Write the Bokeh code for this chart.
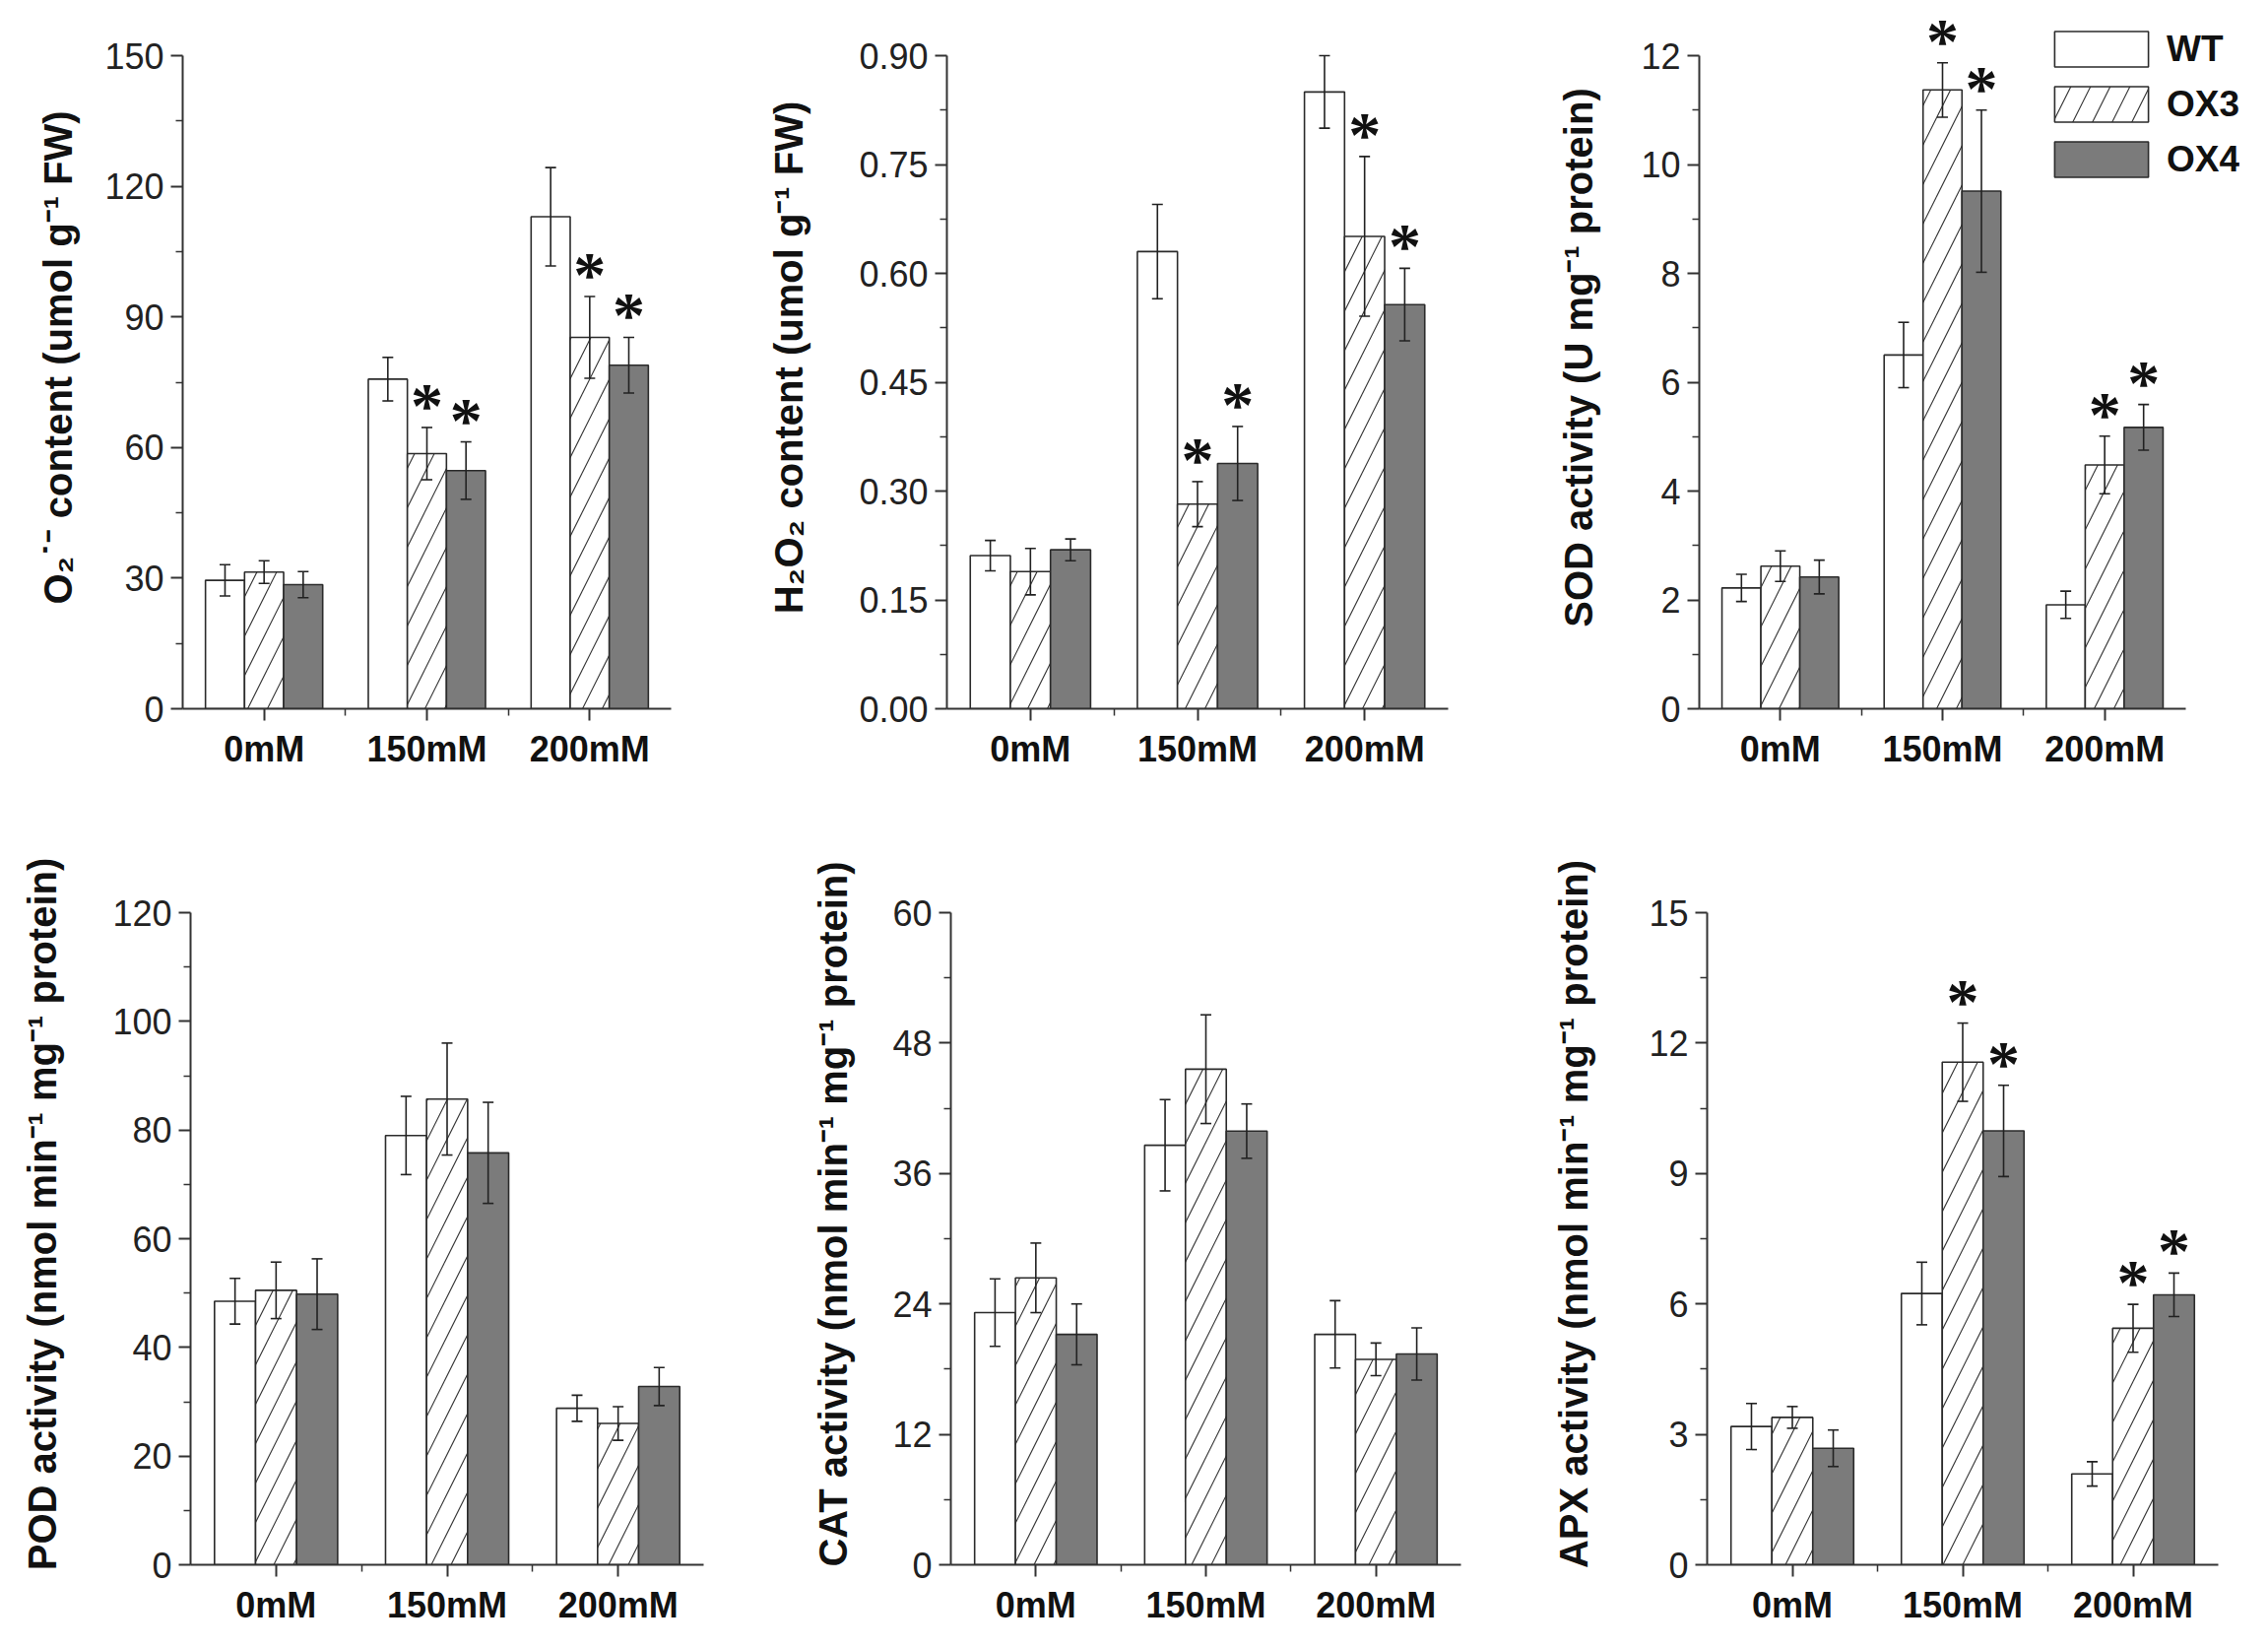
from bokeh.plotting import figure
from bokeh.models import (ColumnDataSource, Whisker, TeeHead, FixedTicker, Legend,
                          LegendItem, Range1d, LabelSet, PrintfTickFormatter)
from bokeh.layouts import column, row
from bokeh.embed import file_html
from bokeh.resources import INLINE

# ---------------- data ----------------
conditions = ["0mM", "150mM", "200mM"]
lines = ["WT", "OX3", "OX4"]

o2_wt = [29.5, 75.7, 113.0]
o2_wt_err = [3.6, 5.0, 11.3]
o2_ox3 = [31.4, 58.6, 85.3]
o2_ox3_err = [2.6, 6.0, 9.4]
o2_ox4 = [28.5, 54.7, 78.9]
o2_ox4_err = [3.0, 6.6, 6.4]
o2_sig_ox3 = [False, True, True]
o2_sig_ox4 = [False, True, True]

h2o2_wt = [0.211, 0.630, 0.850]
h2o2_wt_err = [0.021, 0.065, 0.050]
h2o2_ox3 = [0.189, 0.282, 0.651]
h2o2_ox3_err = [0.032, 0.031, 0.110]
h2o2_ox4 = [0.219, 0.338, 0.557]
h2o2_ox4_err = [0.015, 0.051, 0.050]
h2o2_sig_ox3 = [False, True, True]
h2o2_sig_ox4 = [False, True, True]

sod_wt = [2.22, 6.50, 1.91]
sod_wt_err = [0.25, 0.60, 0.25]
sod_ox3 = [2.62, 11.37, 4.48]
sod_ox3_err = [0.28, 0.50, 0.53]
sod_ox4 = [2.42, 9.51, 5.17]
sod_ox4_err = [0.31, 1.49, 0.42]
sod_sig_ox3 = [False, True, True]
sod_sig_ox4 = [False, True, True]

pod_wt = [48.5, 79.0, 28.8]
pod_wt_err = [4.2, 7.2, 2.4]
pod_ox3 = [50.5, 85.7, 26.0]
pod_ox3_err = [5.2, 10.3, 3.1]
pod_ox4 = [49.8, 75.8, 32.8]
pod_ox4_err = [6.5, 9.3, 3.5]
pod_sig_ox3 = [False, False, False]
pod_sig_ox4 = [False, False, False]

cat_wt = [23.2, 38.6, 21.2]
cat_wt_err = [3.1, 4.2, 3.1]
cat_ox3 = [26.4, 45.6, 18.9]
cat_ox3_err = [3.2, 5.0, 1.5]
cat_ox4 = [21.2, 39.9, 19.4]
cat_ox4_err = [2.8, 2.5, 2.4]
cat_sig_ox3 = [False, False, False]
cat_sig_ox4 = [False, False, False]

apx_wt = [3.18, 6.24, 2.09]
apx_wt_err = [0.53, 0.72, 0.28]
apx_ox3 = [3.39, 11.56, 5.44]
apx_ox3_err = [0.25, 0.90, 0.55]
apx_ox4 = [2.68, 9.98, 6.21]
apx_ox4_err = [0.42, 1.05, 0.50]
apx_sig_ox3 = [False, True, True]
apx_sig_ox4 = [False, True, True]

y_labels = [
    "O\u2082\u02d9\u207b content (umol g\u207b\u00b9 FW)",
    "H\u2082O\u2082 content (umol g\u207b\u00b9 FW)",
    "SOD activity (U mg\u207b\u00b9 protein)",
    "POD activity (nmol min\u207b\u00b9 mg\u207b\u00b9 protein)",
    "CAT activity (nmol min\u207b\u00b9 mg\u207b\u00b9 protein)",
    "APX activity (nmol min\u207b\u00b9 mg\u207b\u00b9 protein)",
]
y_ticks = [
    [0, 30, 60, 90, 120, 150],
    [0.0, 0.15, 0.30, 0.45, 0.60, 0.75, 0.90],
    [0, 2, 4, 6, 8, 10, 12],
    [0, 20, 40, 60, 80, 100, 120],
    [0, 12, 24, 36, 48, 60],
    [0, 3, 6, 9, 12, 15],
]

# ---------------- styling ----------------
FONT = "Liberation Sans"
EDGE = "#2b2b2b"
GREY = "#7b7b7b"
BAR_W = 0.24


def make_panel(idx, wt, wte, ox3, ox3e, ox4, ox4e, sig3, sig4, geom, legend=False):
    # fw/fh: size of the axes box; ext_t/ext_r: extra drawing room above/right of it
    fw, fh, bl, br, bt, bb, ext_t, ext_r, lab_standoff, fmt = geom
    ticks = y_ticks[idx]
    ymax = ticks[-1]
    y_end = ymax * (fh + ext_t) / fh
    x_end = 2.5 + 3.0 * ext_r / fw
    p = figure(frame_width=fw + ext_r, frame_height=fh + ext_t,
               x_range=Range1d(-0.5, x_end), y_range=Range1d(0, y_end),
               min_border_left=bl, min_border_right=br,
               min_border_top=bt, min_border_bottom=bb,
               output_backend="svg", toolbar_location=None)
    p.grid.visible = False
    p.outline_line_color = None
    p.background_fill_color = "white"

    styles = [
        dict(fill_color="white"),
        dict(fill_color="white", hatch_pattern="/", hatch_color="#3a3a3a",
             hatch_scale=40, hatch_weight=1.2),
        dict(fill_color=GREY),
    ]
    series = [(wt, wte, None), (ox3, ox3e, sig3), (ox4, ox4e, sig4)]
    renderers = []
    for k, (vals, errs, sig) in enumerate(series):
        xs = [i + (k - 1) * BAR_W for i in range(len(conditions))]
        src = ColumnDataSource(dict(
            x=xs, top=vals,
            upper=[v + e for v, e in zip(vals, errs)],
            lower=[v - e for v, e in zip(vals, errs)],
        ))
        r = p.vbar(x="x", top="top", bottom=0, width=BAR_W, source=src,
                   line_color=EDGE, line_width=1.6, **styles[k])
        renderers.append(r)
        w = Whisker(source=src, base="x", upper="upper", lower="lower",
                    line_color="#222222", line_width=1.6, level="annotation",
                    upper_head=TeeHead(size=11, line_color="#222222", line_width=1.6),
                    lower_head=TeeHead(size=11, line_color="#222222", line_width=1.6))
        p.add_layout(w)
        if sig is not None:
            sx = [x for x, s in zip(xs, sig) if s]
            sy = [v + e for v, e, s in zip(vals, errs, sig) if s]
            ssrc = ColumnDataSource(dict(x=sx, y=sy, t=["*"] * len(sx)))
            ls = LabelSet(x="x", y="y", text="t", source=ssrc,
                          text_align="center", text_baseline="alphabetic",
                          y_offset=0, text_font=FONT, text_font_style="bold",
                          text_font_size="66px", text_color="#111111")
            p.add_layout(ls)

    # y axis
    ya = p.yaxis[0]
    ya.bounds = (0, ymax)
    ya.ticker = FixedTicker(ticks=ticks,
                            minor_ticks=[(a + b) / 2 for a, b in zip(ticks[:-1], ticks[1:])])
    ya.formatter = PrintfTickFormatter(format=fmt)
    ya.axis_label = y_labels[idx]
    ya.axis_label_text_font = FONT
    ya.axis_label_text_font_style = "bold"
    ya.axis_label_text_font_size = "40px"
    ya.axis_label_text_color = "#111111"
    ya.axis_label_standoff = lab_standoff
    ya.major_label_text_font = FONT
    ya.major_label_text_font_size = "36px"
    ya.major_label_text_color = "#222222"
    ya.major_label_standoff = 7

    # x axis
    xa = p.xaxis[0]
    xa.bounds = (-0.5, 2.5)
    xa.ticker = FixedTicker(ticks=[0, 1, 2], minor_ticks=[0.5, 1.5])
    xa.major_label_overrides = {i: c for i, c in enumerate(conditions)}
    xa.major_label_text_font = FONT
    xa.major_label_text_font_style = "bold"
    xa.major_label_text_font_size = "36px"
    xa.major_label_text_color = "#111111"
    xa.major_label_standoff = 8

    for ax in (xa, ya):
        ax.axis_line_color = "#333333"
        ax.axis_line_width = 2
        ax.major_tick_line_color = "#333333"
        ax.major_tick_line_width = 2
        ax.minor_tick_line_color = "#333333"
        ax.minor_tick_line_width = 1.5
        ax.major_tick_in = 0
        ax.major_tick_out = 12
        ax.minor_tick_in = 0
        ax.minor_tick_out = 7

    if legend:
        lg = Legend(items=[LegendItem(label=n, renderers=[r]) for n, r in zip(lines, renderers)],
                    location=(349, 535), orientation="vertical",
                    glyph_width=119, glyph_height=45, spacing=11, padding=0, margin=0,
                    label_standoff=7, label_text_font=FONT, label_text_font_style="bold",
                    label_text_font_size="37px", label_text_color="#111111",
                    border_line_color=None, background_fill_alpha=0)
        p.add_layout(lg)
    return p


# geometry: axes width/height, border l/r/t/b, extra room top/right, label standoff, tick format
g1 = (496, 663, 185, 71, 6, 123, 50, 0, 22, "%d")
g2 = (509, 663, 209, 45, 6, 123, 50, 0, 46, "%.2f")
g3 = (494, 663, 210, 5, 6, 123, 50, 55, 38, "%d")
g4 = (521, 662, 193, 38, 34, 64, 50, 0, 46, "%d")
g5 = (518, 662, 213, 32, 34, 64, 50, 0, 35, "%d")
g6 = (519, 662, 218, 30, 34, 64, 50, 0, 51, "%d")

p1 = make_panel(0, o2_wt, o2_wt_err, o2_ox3, o2_ox3_err, o2_ox4, o2_ox4_err,
                o2_sig_ox3, o2_sig_ox4, g1)
p2 = make_panel(1, h2o2_wt, h2o2_wt_err, h2o2_ox3, h2o2_ox3_err, h2o2_ox4, h2o2_ox4_err,
                h2o2_sig_ox3, h2o2_sig_ox4, g2)
p3 = make_panel(2, sod_wt, sod_wt_err, sod_ox3, sod_ox3_err, sod_ox4, sod_ox4_err,
                sod_sig_ox3, sod_sig_ox4, g3, legend=True)
p4 = make_panel(3, pod_wt, pod_wt_err, pod_ox3, pod_ox3_err, pod_ox4, pod_ox4_err,
                pod_sig_ox3, pod_sig_ox4, g4)
p5 = make_panel(4, cat_wt, cat_wt_err, cat_ox3, cat_ox3_err, cat_ox4, cat_ox4_err,
                cat_sig_ox3, cat_sig_ox4, g5)
p6 = make_panel(5, apx_wt, apx_wt_err, apx_ox3, apx_ox3_err, apx_ox4, apx_ox4_err,
                apx_sig_ox3, apx_sig_ox4, g6)

layout = column(row(p1, p2, p3), row(p4, p5, p6))
open("out.html", "w").write(file_html(layout, INLINE))
